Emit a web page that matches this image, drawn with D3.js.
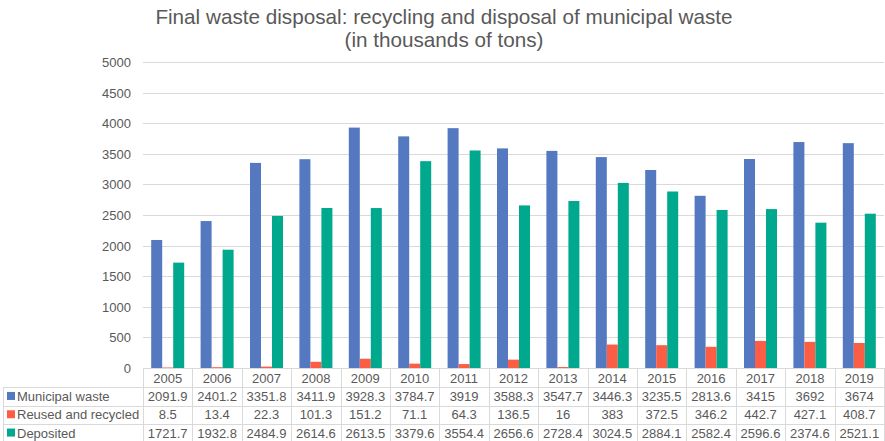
<!DOCTYPE html>
<html><head><meta charset="utf-8">
<script src="https://cdn.jsdelivr.net/npm/d3@7"></script>
<style>body{margin:0;background:#fff;}svg{display:block;font-family:"Liberation Sans",Arial,sans-serif;}</style>
</head><body><svg id="c" width="885" height="441"></svg>
<script>
const years = ["2005","2006","2007","2008","2009","2010","2011","2012","2013","2014","2015","2016","2017","2018","2019"];
const municipal = [2091.9,2401.2,3351.8,3411.9,3928.3,3784.7,3919,3588.3,3547.7,3446.3,3235.5,2813.6,3415,3692,3674];
const recycled = [8.5,13.4,22.3,101.3,151.2,71.1,64.3,136.5,16,383,372.5,346.2,442.7,427.1,408.7];
const deposited = [1721.7,1932.8,2484.9,2614.6,2613.5,3379.6,3554.4,2656.6,2728.4,3024.5,2884.1,2582.4,2596.6,2374.6,2521.1];
const seriesNames = ["Municipal waste","Reused and recycled","Deposited"];
const colors = ["#5479C1","#FB5E44","#00A88D"];
const yTicks = [0,500,1000,1500,2000,2500,3000,3500,4000,4500,5000];
const title = ["Final waste disposal: recycling and disposal of municipal waste","(in thousands of tons)"];

(function(){
const series = [municipal, recycled, deposited];
const svg = d3.select("#c");
const pl = 143, pr = 884, pt = 62, pb = 368;
const x = d3.scaleBand().domain(years).range([pl,pr]).padding(0);
const y = d3.scaleLinear().domain([0,5000]).range([pb,pt]);
const barW = 11;
const inner = d3.scaleBand().domain(seriesNames).range([0, barW*3]);

svg.selectAll("text.title").data(title).enter().append("text")
  .attr("x",444).attr("y",(d,i)=>24+i*22.5).attr("text-anchor","middle")
  .attr("font-size",20.7).attr("fill","#595959").text(d=>d);

svg.selectAll("line.grid").data(yTicks).enter().append("line")
  .attr("x1",pl).attr("x2",pr).attr("y1",d=>Math.round(y(d))+0.5).attr("y2",d=>Math.round(y(d))+0.5)
  .attr("stroke","#d9d9d9").attr("stroke-width",1);
svg.selectAll("text.ytick").data(yTicks).enter().append("text")
  .attr("x",131).attr("y",d=>y(d)+5).attr("text-anchor","end")
  .attr("font-size",13).attr("fill","#595959").text(d=>d);

series.forEach((vals,si)=>{
  svg.append("g").selectAll("rect").data(vals).enter().append("rect")
    .attr("x",(d,i)=>x(years[i]) + (x.bandwidth()-barW*3)/2 + inner(seriesNames[si]))
    .attr("y",d=>y(d)).attr("width",barW).attr("height",d=>pb-y(d))
    .attr("fill",colors[si]);
});

const rowH = 18.3;
const tTop = pb;
const tg = svg.append("g").attr("stroke","#d9d9d9").attr("stroke-width",1);
tg.append("line").attr("x1",pl).attr("x2",pr).attr("y1",tTop+0.5).attr("y2",tTop+0.5);
for(let r=1;r<=4;r++){
  const yy = Math.round(tTop + r*rowH + 1)+0.5;
  tg.append("line").attr("x1",3).attr("x2",pr).attr("y1",yy).attr("y2",yy);
}
years.forEach((yr)=>{
  const xx = Math.round(x(yr))+0.5;
  tg.append("line").attr("x1",xx).attr("x2",xx).attr("y1",tTop).attr("y2",441);
});
tg.append("line").attr("x1",pr+0.5).attr("x2",pr+0.5).attr("y1",tTop).attr("y2",441);
tg.append("line").attr("x1",3.5).attr("x2",3.5).attr("y1",Math.round(tTop+rowH+1)).attr("y2",441);

svg.selectAll("text.year").data(years).enter().append("text")
  .attr("x",d=>x(d)+x.bandwidth()/2).attr("y",tTop+rowH/2+5.5).attr("text-anchor","middle")
  .attr("font-size",13).attr("fill","#595959").text(d=>d);

series.forEach((vals,si)=>{
  const cy = tTop + (si+1)*rowH + 1 + rowH/2 + 4.5;
  svg.append("rect").attr("x",7).attr("y",cy-9).attr("width",8).attr("height",8).attr("fill",colors[si]);
  svg.append("text").attr("x",17).attr("y",cy).attr("font-size",13).attr("fill","#595959").text(seriesNames[si]);
  svg.append("g").selectAll("text").data(vals).enter().append("text")
    .attr("x",(d,i)=>x(years[i])+x.bandwidth()/2).attr("y",cy).attr("text-anchor","middle")
    .attr("font-size",13).attr("fill","#595959").text(d=>d);
});
})();
</script></body></html>
